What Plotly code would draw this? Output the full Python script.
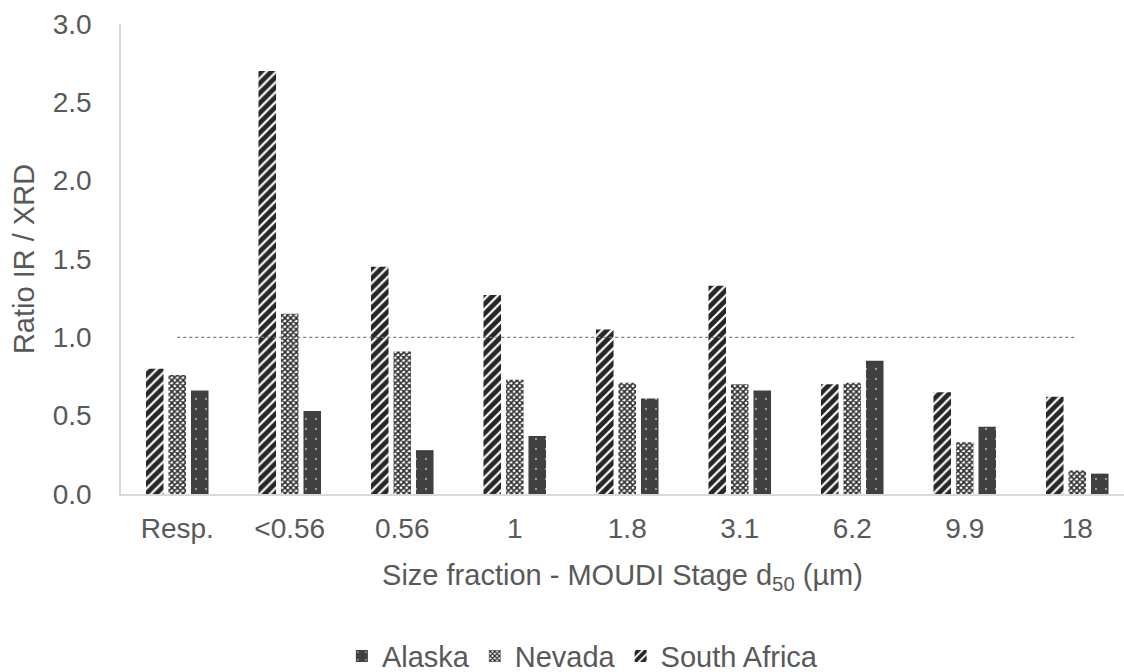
import plotly.graph_objects as go

categories = ["Resp.", "<0.56", "0.56", "1", "1.8", "3.1", "6.2", "9.9", "18"]
south_africa = [0.80, 2.70, 1.45, 1.27, 1.05, 1.33, 0.70, 0.65, 0.62]
nevada = [0.76, 1.15, 0.91, 0.73, 0.71, 0.70, 0.71, 0.33, 0.15]
alaska = [0.66, 0.53, 0.28, 0.37, 0.61, 0.66, 0.85, 0.43, 0.13]
reference_ratio = [1.0] * len(categories)
y_ticks = [0.0, 0.5, 1.0, 1.5, 2.0, 2.5, 3.0]

FONT = "Liberation Sans, Arial, sans-serif"
TXT = "#595959"
TICK = 28
LBL = 29

fig = go.Figure()
fig.add_trace(go.Bar(
    x=categories, y=south_africa, name="South Africa",
    marker=dict(color="white", line=dict(width=0),
                pattern=dict(shape="/", fgcolor="#262626", bgcolor="white",
                             fgopacity=1, size=7, solidity=0.68)),
))
fig.add_trace(go.Bar(
    x=categories, y=nevada, name="Nevada",
    marker=dict(color="white", line=dict(width=0),
                pattern=dict(shape="x", fgcolor="#2a2a2a", bgcolor="white",
                             fgopacity=1, size=4, solidity=0.62)),
))
fig.add_trace(go.Bar(
    x=categories, y=alaska, name="Alaska",
    marker=dict(color="#404040", line=dict(width=0),
                pattern=dict(shape=".", fgcolor="white", bgcolor="#404040",
                             size=10, solidity=0.04)),
))
fig.add_trace(go.Scatter(
    x=categories, y=reference_ratio, mode="lines", showlegend=False,
    line=dict(color="#7f7f7f", width=1.2, dash="dot"), hoverinfo="skip",
))

W, H = 1124, 672
left = 121
step = 112.5
xmax = -0.5 + (W - left) / step

fig.update_layout(
    width=W, height=H,
    margin=dict(l=left, r=0, t=24, b=178, autoexpand=False),
    paper_bgcolor="white", plot_bgcolor="white",
    font=dict(family=FONT, size=TICK, color=TXT),
    barmode="group", bargap=0.4, bargroupgap=0.22,
    legend=dict(orientation="h", x=0.46, xanchor="center", y=-0.345, yanchor="middle",
                traceorder="reversed", font=dict(size=LBL, color=TXT),
                itemwidth=30, tracegroupgap=0),
    xaxis=dict(range=[-0.5, xmax], showgrid=False, showline=True, automargin=False,
               linecolor="#d9d9d9", linewidth=1.5, ticks="", ticklabelstandoff=9,
               tickfont=dict(size=TICK, color=TXT),
               title=dict(text="Size fraction - MOUDI Stage d<sub>50</sub> (µm)",
                          font=dict(size=LBL, color=TXT), standoff=21)),
    yaxis=dict(range=[0, 3.0], tickvals=y_ticks, tickformat=".1f", automargin=False,
               showgrid=False, showline=True, linecolor="#d9d9d9", linewidth=1.5,
               zeroline=False, ticks="", ticklabelstandoff=22,
               tickfont=dict(size=TICK, color=TXT),
               title=dict(text="Ratio IR / XRD", font=dict(size=LBL, color=TXT),
                          standoff=10)),
)

fig.write_html("out.html")
